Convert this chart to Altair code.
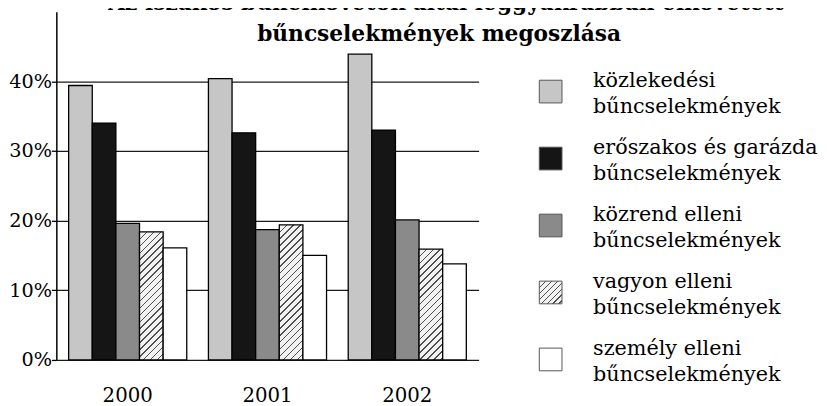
import altair as alt
import pandas as pd

# ---------------- data ----------------
years = ["2000", "2001", "2002"]
categories = [
    "közlekedési bűncselekmények",
    "erőszakos és garázda bűncselekmények",
    "közrend elleni bűncselekmények",
    "vagyon elleni bűncselekmények",
    "személy elleni bűncselekmények",
]
legend_line1 = ["közlekedési", "erőszakos és garázda", "közrend elleni", "vagyon elleni", "személy elleni"]
legend_line2 = ["bűncselekmények", "bűncselekmények", "bűncselekmények", "bűncselekmények", "bűncselekmények"]
values_2000 = [0.394, 0.340, 0.196, 0.184, 0.161]
values_2001 = [0.404, 0.326, 0.187, 0.194, 0.150]
values_2002 = [0.439, 0.330, 0.201, 0.159, 0.138]
y_ticks = [0, 0.1, 0.2, 0.3, 0.4]
title_lines = [
    "Az iszákos bűnelkövetők által leggyakrabban elkövetett",
    "bűncselekmények megoszlása",
]

# ---------------- styling ----------------
FONT = "DejaVu Serif"
fill_colors = ["#c6c6c6", "#151515", "#8a8a8a", "#f2f2f2", "#ffffff"]
HATCH_CAT = categories[3]

W, H = 428, 353
Y_MAX = 0.5
P_IN, P_OUT = 0.155, 0.088
step = W / (len(years) - P_IN + 2 * P_OUT)
bar_w = step * (1 - P_IN) / len(categories)


def hatch(w, h, period=7.0, lw=1.5, bg="#f2f2f2", fg="#505050"):
    L = w + h
    stops = []
    k = 0
    while k * period < L:
        s = k * period / L
        e = min((k * period + lw) / L, 1.0)
        n = min((k + 1) * period / L, 1.0)
        stops += [
            {"offset": s, "color": fg},
            {"offset": e, "color": fg},
            {"offset": e, "color": bg},
            {"offset": n, "color": bg},
        ]
        k += 1
    d = w * w + h * h
    return {
        "gradient": "linear",
        "x1": 0, "y1": 0,
        "x2": w * L / d, "y2": h * L / d,
        "stops": stops,
    }


rows = []
for yr, vals in zip(years, [values_2000, values_2001, values_2002]):
    for c, v in zip(categories, vals):
        rows.append({"year": yr, "cat": c, "value": v})
df = pd.DataFrame(rows)

bar_conditions = [
    {
        "test": f"datum.year === '{r['year']}' && datum.cat === '{r['cat']}'",
        "value": hatch(bar_w, r["value"] / Y_MAX * H),
    }
    for r in rows if r["cat"] == HATCH_CAT
]

color_scale = alt.Scale(domain=categories, range=fill_colors)

bars = alt.Chart(df).mark_bar(stroke="black", strokeWidth=1.3).encode(
    x=alt.X(
        "year:N",
        sort=years,
        scale=alt.Scale(paddingInner=P_IN, paddingOuter=P_OUT),
        axis=alt.Axis(
            title=None, domain=False, ticks=False, labelAngle=0,
            labelFontSize=20, labelPadding=42, labelBaseline="alphabetic",
        ),
    ),
    xOffset=alt.XOffset("cat:N", sort=categories, scale=alt.Scale(paddingInner=0, paddingOuter=0)),
    y=alt.Y(
        "value:Q",
        scale=alt.Scale(domain=[0, Y_MAX], nice=False),
        axis=alt.Axis(
            values=y_ticks, format=".0%", title=None,
            grid=True, gridColor="#1a1a1a", gridWidth=1.3,
            domainColor="black", domainWidth=1.5,
            tickColor="black", tickSize=5, tickWidth=1.3,
            labelFontSize=19.5, labelPadding=0,
        ),
    ),
    fill=alt.Fill("cat:N", scale=color_scale, legend=None, condition=bar_conditions),
)

# ---------------- custom legend ----------------
leg_df = pd.DataFrame({"cat": categories, "l1": legend_line1, "l2": legend_line2})
leg_y = alt.Y(
    "cat:N", sort=categories,
    scale=alt.Scale(type="point", range=[81, 352.5], padding=0),
    axis=None,
)
SW = 23
swatches = alt.Chart(leg_df).mark_square(
    size=SW * SW, stroke="#555555", strokeWidth=1, opacity=1, filled=True
).encode(
    x=alt.value(501),
    y=leg_y,
    fill=alt.Fill(
        "cat:N", scale=color_scale, legend=None,
        condition=[{"test": f"datum.cat === '{HATCH_CAT}'", "value": hatch(SW, SW, period=6.0, lw=1.4)}],
    ),
)
txt1 = alt.Chart(leg_df).mark_text(
    align="left", baseline="alphabetic", fontSize=21, dy=-5
).encode(x=alt.value(544), y=leg_y, text="l1:N")
txt2 = alt.Chart(leg_df).mark_text(
    align="left", baseline="alphabetic", fontSize=21, dy=21.5
).encode(x=alt.value(544), y=leg_y, text="l2:N")

# ---------------- title ----------------
t_df = pd.DataFrame({"t1": [title_lines[0]], "t2": [title_lines[1]]})
title1 = alt.Chart(t_df).mark_text(
    align="center", baseline="alphabetic", fontSize=22, fontWeight="bold"
).encode(x=alt.value(395), y=alt.value(-2), text="t1:N")
title2 = alt.Chart(t_df).mark_text(
    align="center", baseline="alphabetic", fontSize=22, fontWeight="bold"
).encode(x=alt.value(388), y=alt.value(29.5), text="t2:N")

chart = (
    alt.layer(bars, swatches, txt1, txt2, title1, title2)
    .resolve_scale(y="independent")
    .properties(
        width=W, height=H,
        autosize=alt.AutoSizeParams(type="none"),
        padding={"left": 49, "top": 1, "right": 345, "bottom": 46},
        background="white",
    )
    .configure_view(stroke=None)
    .configure_axis(labelFont=FONT, labelColor="black")
    .configure_text(font=FONT, color="black")
)

chart.save("out.html", embed_options={"renderer": "svg", "actions": False})
